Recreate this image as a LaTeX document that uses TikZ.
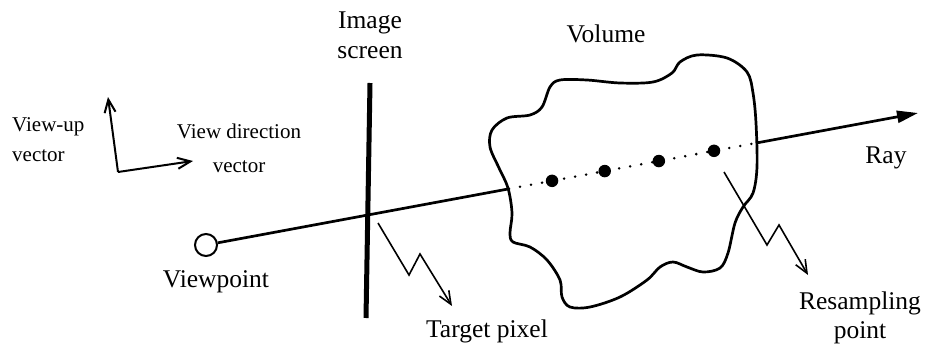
\documentclass[tikz,border=0pt]{standalone}
\usepackage{fontspec}
\setmainfont{Liberation Serif}
\usetikzlibrary{arrows.meta,calc}

\begin{document}
\begin{tikzpicture}[x=1pt, y=-1pt,
        biglabel/.style={font=\fontsize{25.5}{30}\selectfont, inner sep=0pt, align=center},
        smalllabel/.style={font=\fontsize{21}{30}\selectfont, inner sep=0pt},
        vec/.style={line width=2pt, -{Straight Barb[length=13pt,width=11pt]}},
        zigzag/.style={line width=1.6pt, -{Straight Barb[length=13pt,width=11pt]}},
        raypart/.style={line width=2.7pt},
        sample/.style={circle, fill=black, inner sep=0pt, minimum size=12.5pt}]

            \useasboundingbox (0,0) rectangle (928,345);

            \def \xeye  {206}
            \def \yeye  {245}
            \def \xtip  {918}
            \def \ytip  {113}
            \def \tin   {0.4256}
            \def \tout  {0.774}

            \coordinate (eye) at (\xeye, \yeye);
            \coordinate (tip) at (\xtip, \ytip);
            \coordinate (enter) at ($(eye)!\tin!(tip)$);
            \coordinate (leave) at ($(eye)!\tout!(tip)$);
% volume
            \draw [line width=2.7pt] plot [smooth cycle, tension=0.55] coordinates {
                (508,188) (499,168) (490,147) (492,130) (507,118) (530,115) (542,107)
                (550,87) (560,80) (587,80) (620,83) (653,82) (672,73) (680,62)
                (697,55) (727,58) (747,72) (753,93) (756,123) (757,167) (753,193)
                (743,207) (735,223) (728,253) (720,268) (703,272) (687,267) (673,262)
                (660,267) (647,280) (620,297) (590,307) (570,307) (562,297) (560,280)
                (547,260) (530,247) (513,242) (510,233) (512,213)};
            \node [biglabel, anchor=base] (volume) at (606, 42) {Volume};
% image screen
            \coordinate (scrtop) at (370, 83);
            \coordinate (scrbot) at (366, 318);
            \draw [line width=5pt] (scrtop) -- (scrbot);
            \node [biglabel, anchor=north] (screen) at (370, 12) {Image\\screen};
% viewpoint and ray
            \node [circle, draw, line width=2pt, minimum size=22pt, inner sep=0pt] (vp) at (eye) {};
            \node [biglabel, anchor=base] (vplabel) at (216, 287) {Viewpoint};
            \draw [raypart] (vp) -- (enter);
            \draw [line width=2.8pt, line cap=round, dash pattern=on 0pt off 11.2pt] (enter) -- (leave);
            \draw [raypart, -{Triangle[length=21pt,width=12pt]}] (leave) -- (tip);
            \node [biglabel, anchor=base] (raylabel) at (886, 163) {Ray};
% resampling points
            \foreach \t [count=\i] in {0.486, 0.560, 0.636, 0.7135}
                \node [sample] (s\i) at ($(eye)!\t!(tip)$) {};
% view vectors
            \coordinate (origin) at (118, 172);
            \coordinate (up) at (108, 97);
            \coordinate (dir) at (193, 161);
            \draw [vec] (origin) -- (up);
            \draw [vec] (origin) -- (dir);
            \node [smalllabel, anchor=north west, align=left] (uplabel) at (12, 117) {View-up\\vector};
            \node [smalllabel, anchor=north, align=center, font=\fontsize{21}{34}\selectfont] (dirlabel) at (239, 124) {View direction\\vector};
% target pixel
            \coordinate (pixtail) at (378, 223);
            \coordinate (pixhead) at (452, 306);
            \draw [zigzag] (pixtail) -- ++(31, 52) -- ++(11, -21) -- (pixhead);
            \node [biglabel, anchor=base] (pixlabel) at (487, 337) {Target pixel};
% resampling point
            \coordinate (smptail) at (724, 172);
            \coordinate (smphead) at (808, 275);
            \draw [zigzag] (smptail) -- ++(43, 73) -- ++(12, -20) -- (smphead);
            \node [biglabel, anchor=north, font=\fontsize{25.5}{29}\selectfont] (smplabel) at (860, 292) {Resampling\\point};

\end{tikzpicture}
\end{document}
